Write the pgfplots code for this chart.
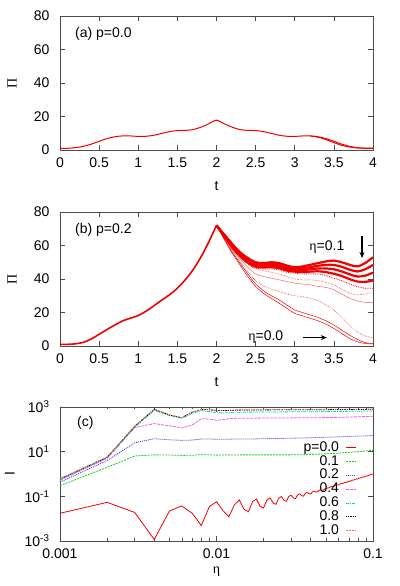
\documentclass[border=0pt]{standalone}
\usepackage{fontspec}
\setmainfont{Liberation Sans}
\newfontfamily\gk{Liberation Serif}
\usepackage{pgfplots}
\pgfplotsset{compat=1.18}
\usetikzlibrary{arrows.meta}

\definecolor{gpred}{RGB}{240,0,0}
\definecolor{gpgreen}{RGB}{20,210,20}
\definecolor{gpblue}{RGB}{50,50,240}
\definecolor{gpmag}{RGB}{240,90,240}
\definecolor{gpcyan}{RGB}{0,215,215}
\definecolor{gporange}{RGB}{255,110,50}

\newcommand{\lab}{\fontsize{14}{16}\selectfont}

\pgfplotsset{
  gp/.style={
    scale only axis, width=313pt, height=134pt,
    axis line style={black!70, line width=0.6pt},
    tick style={black!70, line width=0.5pt},
    major tick length=5pt, minor tick length=2.5pt,
    tick label style={font=\lab},
    label style={font=\lab},
    /pgf/number format/assume math mode=true,
    xticklabel style={yshift=-4.3pt},
    yticklabel style={xshift=-7pt},
  },
  lin/.style={gp,
    xmin=0, xmax=4, ymin=0, ymax=80,
    xtick={0,0.5,...,4}, ytick={0,20,...,80},
    xlabel={t}, ylabel={\gk Π},
    xlabel style={at={(axis description cs:0.5,-0.27)}, anchor=center},
    ylabel style={at={(axis description cs:-0.153,0.5)}, anchor=center},
  },
}

\begin{document}
\begin{tikzpicture}[x=1pt,y=1pt]
\path[use as bounding box] (0,0) rectangle (399,586);

% (a) p=0.0
\begin{axis}[lin, at={(60pt,436pt)}, anchor=south west]
\addplot[gpred, line width=1pt, smooth] coordinates {
 (0,1.0) (0.1,1.0) (0.2,1.4) (0.3,2.2) (0.4,3.5) (0.5,5.2) (0.6,6.8) (0.7,7.9)
 (0.8,8.4) (0.9,8.4) (1.0,8.1) (1.1,8.2) (1.2,8.8) (1.3,9.9) (1.4,11.0) (1.5,11.6)
 (1.6,11.7) (1.7,12.2) (1.8,13.6) (1.9,15.6) (2.0,17.8) (2.1,15.6) (2.2,13.6)
 (2.3,12.2) (2.4,11.7) (2.5,11.6) (2.6,11.0) (2.7,9.9) (2.8,8.8) (2.9,8.2)
 (3.0,8.1) (3.1,8.4) (3.2,8.4) (3.3,7.9) (3.4,6.8) (3.5,5.2) (3.6,3.5) (3.7,2.2)
 (3.8,1.4) (3.9,1.0) (4.0,1.0)};
\addplot[gpred, line width=1pt, smooth] coordinates {
 (3.2,8.4) (3.3,7.6) (3.4,6.2) (3.5,4.4) (3.6,2.8) (3.7,1.8) (3.8,1.2) (3.9,1.1) (4.0,1.2)};
\node[anchor=west, inner sep=0pt, font=\lab] at (axis description cs:0.048,0.866) {(a) p=0.0};
\end{axis}

% (b) p=0.2
\begin{axis}[lin, at={(60pt,240pt)}, anchor=south west]
% common rise, all eta
\addplot[gpred, line width=1.6pt, smooth] coordinates {
 (0,1.0) (0.1,1.0) (0.2,1.3) (0.3,2.2) (0.4,4.2) (0.5,7.0) (0.6,9.8) (0.7,12.5)
 (0.8,15.0) (0.9,16.6) (1.0,18.2) (1.1,20.8) (1.2,24.0) (1.3,27.4) (1.4,30.6)
 (1.5,34.5) (1.6,39.5) (1.7,45.5) (1.8,53.0) (1.9,62.0) (2.0,72.0)};
% lower curves (eta = 0.0, 0.001, 0.002, ...)
\addplot[gpred, line width=0.5pt, smooth] coordinates {
 (2.0,72) (2.1,63.5) (2.2,55.5) (2.3,48.5) (2.4,41.5) (2.5,35.5) (2.6,31.5) (2.7,28.5)
 (2.8,25.5) (2.9,22.5) (3.0,19.5) (3.1,18) (3.2,16.5) (3.3,15) (3.4,13) (3.5,10.5)
 (3.6,7.5) (3.7,4.5) (3.8,2.5) (3.9,1.5) (4.0,1.2)};
\addplot[gpred, line width=0.5pt, smooth] coordinates {
 (2.0,72) (2.1,64) (2.2,56) (2.3,49.5) (2.4,43) (2.5,37) (2.6,33) (2.7,30)
 (2.8,27.5) (2.9,24.5) (3.0,21.5) (3.1,20) (3.2,18.5) (3.3,17) (3.4,15) (3.5,12.5)
 (3.6,9.5) (3.7,6.5) (3.8,4) (3.9,2) (4.0,1.5)};
\addplot[gpred, line width=0.5pt, densely dotted, smooth] coordinates {
 (2.0,72) (2.1,64.5) (2.2,57) (2.3,50.5) (2.4,44.5) (2.5,39) (2.6,36) (2.7,34)
 (2.8,32.5) (2.9,31) (3.0,30) (3.1,29.5) (3.2,28.5) (3.3,27) (3.4,24.5) (3.5,21.5)
 (3.6,17) (3.7,12.5) (3.8,8.5) (3.9,6) (4.0,5)};
\addplot[gpred!60, line width=0.5pt, smooth] coordinates {
 (2.0,72) (2.1,65) (2.2,57.5) (2.3,52) (2.4,47) (2.5,43) (2.6,41.5) (2.7,40.5)
 (2.8,39.5) (2.9,38.5) (3.0,37.5) (3.1,37) (3.2,36.5) (3.3,35.5) (3.4,35) (3.5,33.5)
 (3.6,31) (3.7,28.5) (3.8,27) (3.9,26) (4.0,26)};
\addplot[gpred, line width=0.5pt, densely dotted, smooth] coordinates {
 (2.0,72) (2.1,65) (2.2,58) (2.3,53) (2.4,49) (2.5,46) (2.6,45) (2.7,44)
 (2.8,43) (2.9,41.5) (3.0,40) (3.1,39.5) (3.2,39.5) (3.3,39) (3.4,38) (3.5,36.5)
 (3.6,34) (3.7,31.5) (3.8,30.5) (3.9,31) (4.0,32)};
% dense band (eta up to 0.1)
\addplot[gpred, line width=0.8pt, densely dotted, smooth] coordinates {
 (2.0,72) (2.1,65) (2.2,58.5) (2.3,53) (2.4,49) (2.5,46.5) (2.6,46) (2.7,46)
 (2.8,45.5) (2.9,44) (3.0,43.5) (3.1,43) (3.2,43) (3.3,43) (3.4,42) (3.5,40.5)
 (3.6,39) (3.7,37) (3.8,35.5) (3.9,34.5) (4.0,34.5)};
\addplot[gpred, line width=2.2pt, smooth] coordinates {
 (2.0,72) (2.1,65.4) (2.2,59.1) (2.3,53.8) (2.4,49.9) (2.5,47.4) (2.6,46.9) (2.7,47)
 (2.8,46.5) (2.9,45) (3.0,44.4) (3.1,44.1) (3.2,44.4) (3.3,44.6) (3.4,44.1) (3.5,43.1)
 (3.6,41.8) (3.7,39.9) (3.8,38.5) (3.9,38.3) (4.0,39.1)};
\addplot[gpred, line width=2.2pt, smooth] coordinates {
 (2.0,72) (2.1,65.8) (2.2,59.8) (2.3,54.5) (2.4,50.8) (2.5,48.3) (2.6,47.8) (2.7,48)
 (2.8,47.5) (2.9,46) (3.0,45.3) (3.1,45.3) (3.2,45.8) (3.3,46.3) (3.4,46.3) (3.5,45.8)
 (3.6,44.5) (3.7,42.8) (3.8,41.5) (3.9,42) (4.0,43.8)};
\addplot[gpred, line width=2.2pt, smooth] coordinates {
 (2.0,72) (2.1,66.1) (2.2,60.4) (2.3,55.3) (2.4,51.6) (2.5,49.1) (2.6,48.6) (2.7,49)
 (2.8,48.5) (2.9,47) (3.0,46.1) (3.1,46.4) (3.2,47.1) (3.3,47.9) (3.4,48.4) (3.5,48.4)
 (3.6,47.3) (3.7,45.6) (3.8,44.5) (3.9,45.8) (4.0,48.4)};
\addplot[gpred, line width=2.2pt, smooth] coordinates {
 (2.0,72) (2.1,66.5) (2.2,61) (2.3,56) (2.4,52.5) (2.5,50) (2.6,49.5) (2.7,50)
 (2.8,49.5) (2.9,48) (3.0,47) (3.1,47.5) (3.2,48.5) (3.3,49.5) (3.4,50.5) (3.5,51)
 (3.6,50) (3.7,48.5) (3.8,47.5) (3.9,49.5) (4.0,53)};
\node[anchor=west, inner sep=0pt, font=\lab] at (axis description cs:0.048,0.866) {(b) p=0.2};
\node[font=\lab] at (axis cs:3.41,59.3) {{\gk η}=0.1};
\node[font=\lab] at (axis cs:2.63,5.6) {{\gk η}=0.0};
\draw[-{Stealth[length=6pt,width=5pt]}, line width=1.1pt] (axis cs:3.86,65.5) -- (axis cs:3.86,52.5);
\draw[-{Stealth[length=6pt,width=5pt]}, line width=1.1pt] (axis cs:3.10,5) -- (axis cs:3.41,5);
\end{axis}

% (c)
\begin{axis}[gp, at={(60pt,45pt)}, anchor=south west,
  xmode=log, ymode=log,
  xmin=0.001, xmax=0.1, ymin=1e-3, ymax=1e3,
  xtick={0.001,0.01,0.1}, xticklabels={0.001,0.01,0.1},
  ytick={1e-3,1e-1,1e1,1e3},
  yticklabels={10\textsuperscript{-3},10\textsuperscript{-1},10\textsuperscript{1},10\textsuperscript{3}},
  minor ytick={},
  xlabel={\gk η}, ylabel={I},
  xlabel style={at={(axis description cs:0.5,-0.23)}, anchor=center},
  ylabel style={at={(axis description cs:-0.16,0.5)}, anchor=center},
  legend plot pos=right, legend cell align=right,
  legend image code/.code={\draw[#1] (0pt,0pt) -- (10pt,0pt);},
  legend style={at={(axis description cs:0.949,0.745)}, anchor=north east,
    draw=none, fill=none, inner sep=0pt, row sep=0.8pt, column sep=7pt,
    nodes={inner sep=0pt, text height=10pt, text depth=3pt, font=\lab}},
]
\addplot[gpred, line width=0.8pt] coordinates {
 (0.001,0.0174) (0.002,0.0537) (0.003,0.0191) (0.004,0.00117) (0.005,0.0219)
 (0.006,0.0372) (0.007,0.0174) (0.008,0.0049) (0.009,0.0347) (0.010,0.0575)
 (0.011,0.0229) (0.012,0.0123) (0.013,0.0407) (0.014,0.0692) (0.015,0.0263)
 (0.016,0.0204) (0.017,0.0575) (0.018,0.0759) (0.019,0.0355) (0.020,0.0302)
 (0.021,0.0692) (0.022,0.0851) (0.023,0.0501) (0.024,0.0437) (0.025,0.0832)
 (0.026,0.0977) (0.027,0.0661) (0.028,0.0603) (0.029,0.100) (0.030,0.112)
 (0.031,0.0851) (0.032,0.0794) (0.033,0.117) (0.034,0.129) (0.035,0.107)
 (0.036,0.102) (0.037,0.138) (0.038,0.148) (0.039,0.132) (0.040,0.129)
 (0.041,0.158) (0.042,0.170) (0.043,0.158) (0.044,0.155) (0.045,0.182)
 (0.046,0.195) (0.047,0.186) (0.048,0.186) (0.049,0.209) (0.050,0.224)
 (0.051,0.234) (0.052,0.235) (0.053,0.254) (0.054,0.274) (0.055,0.275)
 (0.056,0.276) (0.057,0.297) (0.058,0.319) (0.059,0.320) (0.060,0.321)
 (0.061,0.344) (0.062,0.366) (0.063,0.369) (0.064,0.372) (0.065,0.394)
 (0.066,0.417) (0.067,0.421) (0.068,0.425) (0.069,0.449) (0.070,0.474)
 (0.071,0.478) (0.072,0.481) (0.073,0.507) (0.074,0.532) (0.075,0.537)
 (0.076,0.543) (0.077,0.569) (0.078,0.596) (0.079,0.601) (0.080,0.607)
 (0.081,0.635) (0.082,0.661) (0.083,0.669) (0.084,0.678) (0.085,0.705)
 (0.086,0.733) (0.087,0.740) (0.088,0.748) (0.089,0.778) (0.090,0.806)
 (0.091,0.816) (0.092,0.826) (0.093,0.855) (0.094,0.885) (0.095,0.896)
 (0.096,0.906) (0.097,0.937) (0.098,0.966) (0.099,0.979) (0.100,1.0)};
\addlegendentry{p=0.0}
\addplot[gpgreen, line width=0.8pt, dash pattern=on 2pt off 1pt] coordinates {
 (0.001,0.30) (0.002,2.0) (0.003,6.4) (0.004,7.2) (0.005,7.1) (0.006,6.8) (0.007,6.9)
 (0.008,7.3) (0.009,7.2) (0.010,7.0) (0.011,7.1) (0.012,7.2) (0.013,7.1) (0.015,7.2)
 (0.017,7.2) (0.020,7.2) (0.025,7.2) (0.030,7.2) (0.035,7.3) (0.040,7.5) (0.050,8.0)
 (0.060,8.6) (0.070,9.3) (0.080,10.0) (0.090,10.8) (0.100,11.5)};
\addlegendentry{0.1}
\addplot[gpblue, line width=0.8pt, dash pattern=on 1pt off 1pt] coordinates {
 (0.001,0.43) (0.002,4.0) (0.003,25) (0.004,38) (0.005,34) (0.006,32) (0.007,33)
 (0.008,37) (0.009,37) (0.010,36) (0.011,36) (0.012,36) (0.013,37) (0.015,37)
 (0.017,37) (0.020,38) (0.025,39) (0.030,40) (0.035,41) (0.040,42) (0.050,44)
 (0.060,46) (0.070,48) (0.080,50) (0.090,51) (0.100,53)};
\addlegendentry{0.2}
\addplot[gpmag, line width=0.8pt, dash pattern=on 3pt off 1pt] coordinates {
 (0.001,0.52) (0.002,5.0) (0.003,120) (0.004,180) (0.005,145) (0.006,115) (0.007,155)
 (0.008,300) (0.009,290) (0.010,255) (0.011,270) (0.012,300) (0.013,310) (0.015,315)
 (0.017,315) (0.020,320) (0.025,320) (0.030,325) (0.035,330) (0.040,330) (0.050,335)
 (0.060,345) (0.070,355) (0.080,365) (0.090,375) (0.100,385)};
\addlegendentry{0.4}
\addplot[gpcyan, line width=0.8pt, dash pattern=on 3pt off 1pt on 1pt off 1pt] coordinates {
 (0.001,0.58) (0.002,5.4) (0.003,125) (0.004,700) (0.005,420) (0.006,310) (0.007,520)
 (0.008,680) (0.009,620) (0.010,560) (0.011,540) (0.012,560) (0.013,580) (0.015,590)
 (0.017,590) (0.020,600) (0.025,600) (0.030,610) (0.035,610) (0.040,615) (0.050,620)
 (0.060,630) (0.070,640) (0.080,650) (0.090,660) (0.100,670)};
\addlegendentry{0.6}
\addplot[black, line width=0.8pt, dash pattern=on 1pt off 1pt on 1pt off 1pt on 2pt off 1pt] coordinates {
 (0.001,0.60) (0.002,5.6) (0.003,135) (0.004,780) (0.005,440) (0.006,330) (0.007,580)
 (0.008,770) (0.009,740) (0.010,700) (0.011,690) (0.012,700) (0.013,720) (0.015,730)
 (0.017,740) (0.020,740) (0.025,750) (0.030,750) (0.035,760) (0.040,760) (0.050,760)
 (0.060,770) (0.070,770) (0.080,780) (0.090,780) (0.100,790)};
\addlegendentry{0.8}
\addplot[gporange, line width=0.8pt, dash pattern=on 1.5pt off 1.5pt] coordinates {
 (0.001,0.62) (0.002,5.7) (0.003,140) (0.004,800) (0.005,450) (0.006,340) (0.007,600)
 (0.008,790) (0.009,760) (0.010,720) (0.011,710) (0.012,720) (0.013,740) (0.015,750)
 (0.017,760) (0.020,760) (0.025,770) (0.030,770) (0.035,780) (0.040,780) (0.050,780)
 (0.060,790) (0.070,790) (0.080,800) (0.090,800) (0.100,810)};
\addlegendentry{1.0}
\node[font=\lab] at (axis description cs:0.081,0.88) {(c)};
\end{axis}
\end{tikzpicture}
\end{document}
